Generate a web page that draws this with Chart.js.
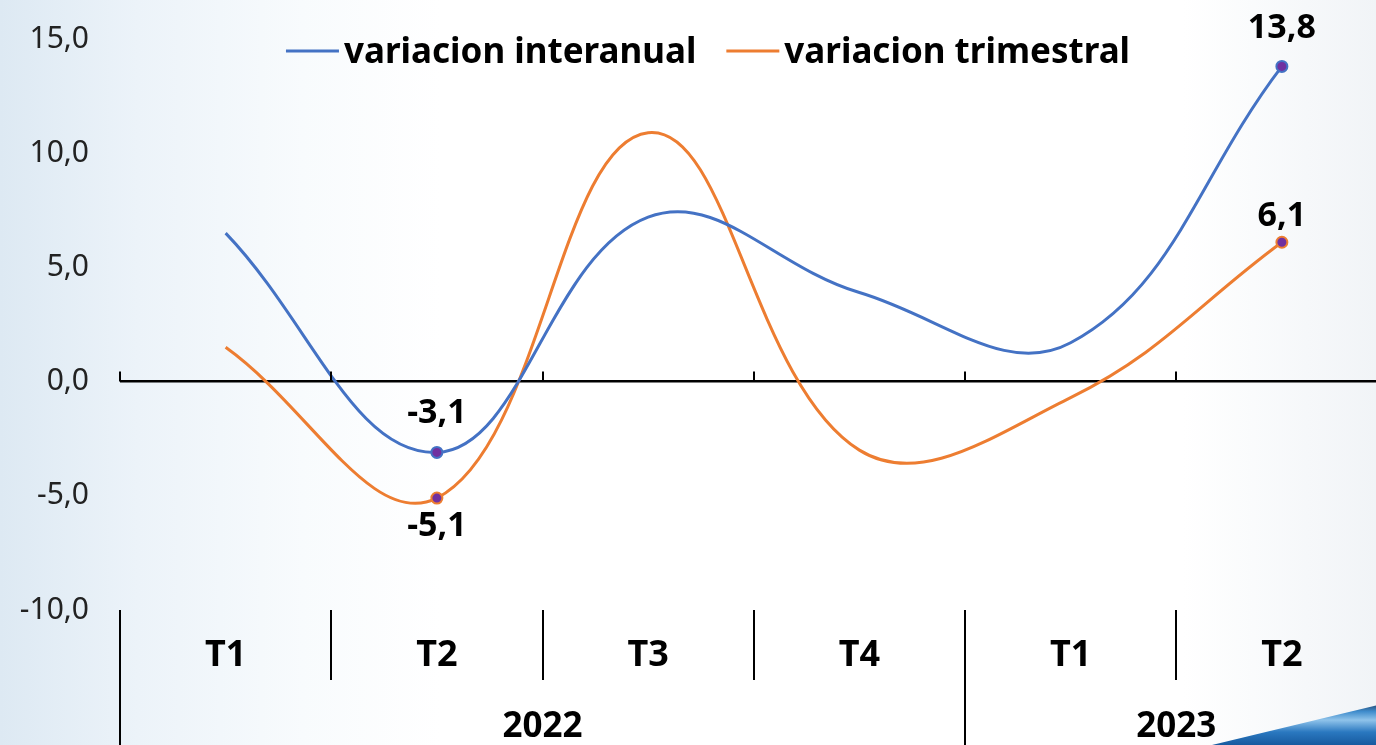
<!DOCTYPE html>
<html>
<head>
<meta charset="utf-8">
<script src="https://cdn.jsdelivr.net/npm/chart.js@4.4.1/dist/chart.umd.min.js"></script>
<style>
html, body { margin: 0; padding: 0; overflow: hidden; }
body {
    width: 1376px; height: 745px; position: relative;
    background: linear-gradient(to right, #dde9f3 0%, #ecf3f9 10%, #f8fbfd 22%, #ffffff 32%, #ffffff 86%, #f1f4f7 100%);
}
#swoosh {
    position: absolute; left: 1212px; top: 702px; width: 164px; height: 43px;
    clip-path: polygon(0 100%, 100% 8%, 100% 100%);
    background: linear-gradient(to bottom, #1a3558 0%, #3f8ccc 22%, #8fc3ea 42%, #2a78c0 70%, #175a9f 100%);
}
#wrap { position: absolute; left: 0; top: 0; width: 1395px; height: 745px; }
</style>
</head>
<body>
<div id="swoosh"></div>
<div id="wrap"><canvas id="chart"></canvas></div>
<script>
// data
const quarters = ['T1', 'T2', 'T3', 'T4', 'T1', 'T2'];
const years = ['2022', '2023'];
const quartersPerYear = [4, 2];
const interanual = [6.5, -3.1, 7.2, 3.9, 1.7, 13.8];
const trimestral = [1.5, -5.1, 10.9, -3.0, -0.7, 6.1];
const seriesNames = ['variacion interanual', 'variacion trimestral'];
const yTicks = [-10, -5, 0, 5, 10, 15];
const labelledPoints = [1, 5];

const FONT = '"Noto Sans", "Open Sans", sans-serif';
const fmt = v => Number(v).toFixed(1).replace('.', ',');

// year label centres and boundaries, in category units
let yearCenters = [];
let yearEdges = [0];
let acc = 0;
for (let i = 0; i < quartersPerYear.length; i++) {
    yearCenters.push(acc + quartersPerYear[i] / 2 - 0.5);
    acc += quartersPerYear[i];
    yearEdges.push(acc);
}

/**
 * zero line ticks and the separators of the two-level category axis
 */
const axisDecor = {
    id: 'axisDecor',
    afterDraw(chart) {
        const { ctx, chartArea, scales: { x, y } } = chart;
        const w = x.width / quarters.length;
        const y0 = y.getPixelForValue(0);
        ctx.save();
        ctx.strokeStyle = '#000';
        ctx.lineWidth = 2;
        for (let i = 0; i <= quarters.length; i++) {
            const px = Math.round(x.left + i * w);
            ctx.beginPath();
            ctx.moveTo(px, y0 - 10);
            ctx.lineTo(px, y0);
            ctx.moveTo(px, chartArea.bottom);
            ctx.lineTo(px, yearEdges.includes(i) ? chart.height : chartArea.bottom + 70);
            ctx.stroke();
        }
        ctx.restore();
    }
};

/**
 * value labels on the marked points
 */
const pointLabels = {
    id: 'pointLabels',
    afterDatasetsDraw(chart) {
        const ctx = chart.ctx;
        ctx.save();
        ctx.font = 'bold 34px ' + FONT;
        ctx.fillStyle = '#000';
        ctx.textAlign = 'center';
        ctx.textBaseline = 'middle';
        chart.data.datasets.forEach((ds, di) => {
            const meta = chart.getDatasetMeta(di);
            labelledPoints.forEach((idx, k) => {
                const pt = meta.data[idx];
                ctx.fillText(fmt(ds.data[idx]), pt.x, pt.y + ds.labelShift[k]);
            });
        });
        ctx.restore();
    }
};

/**
 * legend drawn inside the plot, at the top
 */
const topLegend = {
    id: 'topLegend',
    afterDraw(chart) {
        const ctx = chart.ctx;
        ctx.save();
        ctx.font = 'bold 35px ' + FONT;
        ctx.textBaseline = 'alphabetic';
        const lineW = 53, gap = 5, itemGap = 30;
        const items = chart.data.datasets.map(ds => ({
            text: ds.label, color: ds.borderColor, w: ctx.measureText(ds.label).width
        }));
        const total = items.reduce((s, it) => s + lineW + gap + it.w, 0) + itemGap * (items.length - 1);
        let cx = 708 - total / 2;
        items.forEach(it => {
            ctx.strokeStyle = it.color;
            ctx.lineWidth = 3;
            ctx.beginPath();
            ctx.moveTo(cx, 51);
            ctx.lineTo(cx + lineW, 51);
            ctx.stroke();
            ctx.fillStyle = '#000';
            ctx.fillText(it.text, cx + lineW + gap, 63);
            cx += lineW + gap + it.w + itemGap;
        });
        ctx.restore();
    }
};

const chartConfig = {
    type: 'line',
    data: {
        labels: quarters,
        datasets: [{
            label: seriesNames[0],
            data: interanual,
            borderColor: '#4472C4',
            labelShift: [-39, -38]
        }, {
            label: seriesNames[1],
            data: trimestral,
            borderColor: '#ED7D31',
            labelShift: [28, -26]
        }]
    },
    options: {
        responsive: true,
        maintainAspectRatio: false,
        animation: false,
        layout: { padding: { top: 39, right: 0, bottom: 0, left: 0 } },
        elements: {
            line: { borderWidth: 3, tension: 0.4, fill: false },
            point: {
                radius: ctx => labelledPoints.includes(ctx.dataIndex) ? 5.5 : 0,
                backgroundColor: '#7030A0',
                borderWidth: 2,
                hoverRadius: 5.5
            }
        },
        scales: {
            x: {
                type: 'category',
                offset: true,
                grid: { display: false },
                border: { display: false },
                afterFit: ax => { ax.height = 70; },
                ticks: {
                    color: '#000',
                    font: { family: FONT, size: 36, weight: 'bold' },
                    padding: 16,
                    maxRotation: 0,
                    autoSkip: false
                }
            },
            yr: {
                type: 'linear',
                position: 'bottom',
                min: -0.5,
                max: quarters.length - 0.5,
                grid: { display: false },
                border: { display: false },
                afterBuildTicks: ax => { ax.ticks = yearCenters.map(v => ({ value: v })); },
                afterFit: ax => { ax.height = 65; },
                ticks: {
                    callback: (v, i) => years[i],
                    color: '#000',
                    font: { family: FONT, size: 35, weight: 'bold' },
                    padding: 18,
                    maxRotation: 0,
                    autoSkip: false
                }
            },
            y: {
                min: -10,
                max: 15,
                afterBuildTicks: ax => { ax.ticks = yTicks.map(v => ({ value: v })); },
                afterFit: ax => { ax.width = 120; },
                grid: {
                    drawTicks: true,
                    tickLength: 31,
                    tickColor: 'rgba(0,0,0,0)',
                    color: c => c.tick && c.tick.value === 0 ? '#000' : 'rgba(0,0,0,0)',
                    lineWidth: 2.5
                },
                border: { display: false },
                ticks: {
                    padding: 0,
                    callback: v => fmt(v),
                    color: '#222',
                    font: { family: FONT, size: 30 }
                }
            }
        },
        plugins: {
            legend: { display: false },
            tooltip: { enabled: false }
        }
    },
    plugins: [axisDecor, pointLabels, topLegend]
};

chartConfig.data.datasets.forEach(ds => { ds.pointBorderColor = ds.borderColor; });

const chart = new Chart(document.getElementById('chart'), chartConfig);
</script>
</body>
</html>
